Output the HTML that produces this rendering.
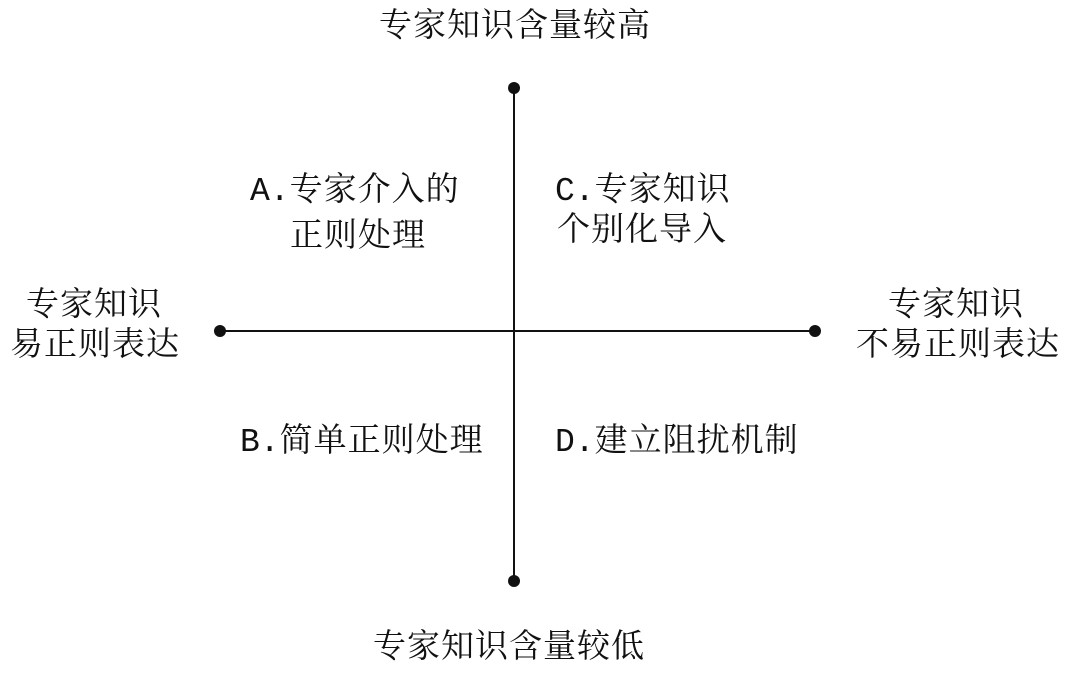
<!DOCTYPE html>
<html><head><meta charset="utf-8"><style>
html,body{margin:0;padding:0;background:#fff;}
body{width:1080px;height:673px;position:relative;overflow:hidden;font-family:"Liberation Serif","Noto Serif CJK SC",serif;font-size:33px;letter-spacing:1px;color:#111;}
.t{position:absolute;white-space:nowrap;line-height:40px;}
.c{transform:translateX(-50%);text-align:center;}
.m{font-family:"Liberation Mono",monospace;letter-spacing:0;}
</style></head><body>
<svg width="1080" height="673" style="position:absolute;left:0;top:0">
<line x1="514" y1="88" x2="514" y2="581" stroke="#111" stroke-width="2"/>
<line x1="220" y1="331" x2="815" y2="331" stroke="#111" stroke-width="2"/>
<circle cx="514" cy="88" r="6" fill="#111"/>
<circle cx="514" cy="581" r="6" fill="#111"/>
<circle cx="220" cy="331" r="6" fill="#111"/>
<circle cx="815" cy="331" r="6" fill="#111"/>
</svg>
<div class="t c" style="left:515px;top:6px">专家知识含量较高</div>
<div class="t c" style="left:509px;top:627px">专家知识含量较低</div>
<div class="t c" style="left:94px;top:285px">专家知识</div>
<div class="t c" style="left:95px;top:325px">易正则表达</div>
<div class="t c" style="left:956px;top:285px">专家知识</div>
<div class="t c" style="left:958px;top:325px">不易正则表达</div>
<div class="t" style="left:250px;top:170px"><span class="m">A.</span>专家介入的</div>
<div class="t" style="left:290px;top:216px">正则处理</div>
<div class="t" style="left:555px;top:170px"><span class="m">C.</span>专家知识</div>
<div class="t" style="left:557px;top:210px">个别化导入</div>
<div class="t" style="left:240px;top:421px"><span class="m">B.</span>简单正则处理</div>
<div class="t" style="left:555px;top:421px"><span class="m">D.</span>建立阻扰机制</div>
</body></html>
